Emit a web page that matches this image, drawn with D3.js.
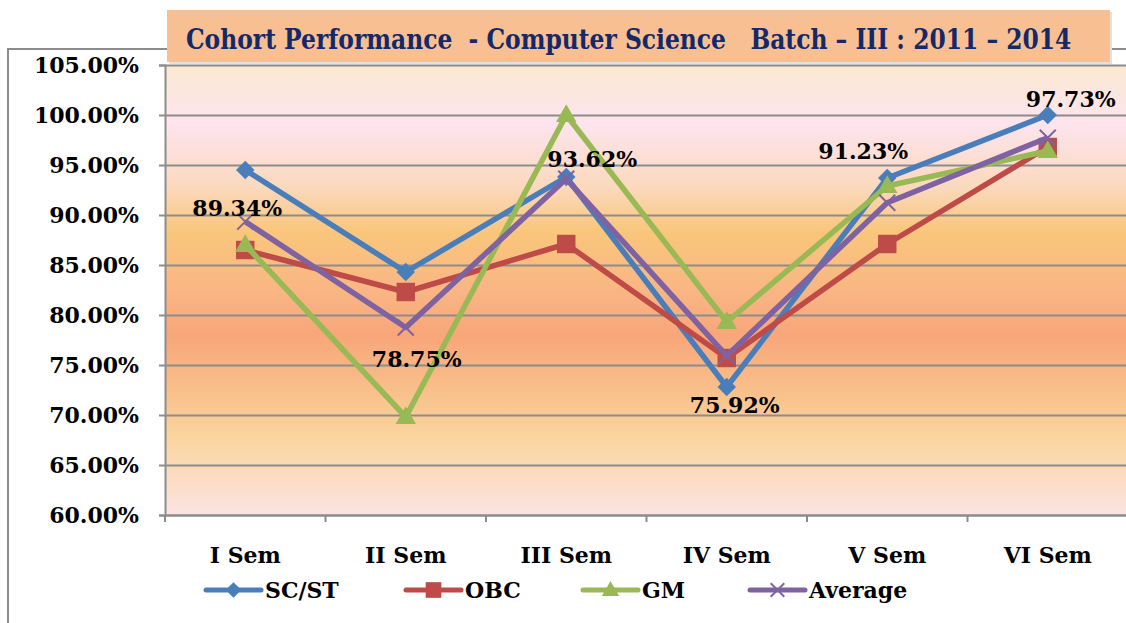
<!DOCTYPE html>
<html>
<head>
<meta charset="utf-8">
<script src="https://cdn.jsdelivr.net/npm/d3@7"></script>
<style>
  body { margin: 0; background: #fff; }
  svg text { font-family: "DejaVu Serif", serif; font-weight: bold; }
</style>
</head>
<body>
<div id="chart"></div>
<script>
// Chart values
var semesters = ["I Sem", "II Sem", "III Sem", "IV Sem", "V Sem", "VI Sem"];
var scst = [94.5, 84.3, 93.8, 72.8, 93.7, 100.0];
var obc = [86.5, 82.3, 87.1, 75.7, 87.1, 96.8];
var gm = [87.0, 69.8, 100.0, 79.3, 92.9, 96.4];
var average = [89.34, 78.75, 93.62, 75.92, 91.23, 97.73];
var yTicks = [60, 65, 70, 75, 80, 85, 90, 95, 100, 105];
var titleText = "Cohort Performance  - Computer Science   Batch \u2013 III : 2011 \u2013 2014";

// where each average label sits relative to its point
var labelDx = [-8, 11, 26, 8, -24, 23];
var labelDy = [-6, 39, -12, 57, -44, -31];

var series = [
    { name: "SC/ST", values: scst, color: "#4A7EBB", marker: "diamond" },
    { name: "OBC", values: obc, color: "#BE4B48", marker: "square" },
    { name: "GM", values: gm, color: "#98B954", marker: "triangle" },
    { name: "Average", values: average, color: "#7E62A1", marker: "x" }
];

var width = 1126, height = 623;
var plot = { left: 165, top: 65, right: 1128, bottom: 515 };

var svg = d3.select("#chart").append("svg")
    .attr("width", width)
    .attr("height", height);

// background gradient of the plot area
var defs = svg.append("defs");
var grad = defs.append("linearGradient")
    .attr("id", "bg")
    .attr("x1", 0).attr("y1", 0).attr("x2", 0).attr("y2", 1);
[[0, "#FBE8D1"], [0.13, "#FDE4EE"], [0.27, "#FBD9BE"], [0.37, "#F9C67B"],
 [0.5, "#F9B684"], [0.6, "#F8A67A"], [0.74, "#F9C38E"], [0.83, "#FAD59E"], [1, "#FCE3E4"]]
    .forEach(function (s) {
        grad.append("stop").attr("offset", s[0]).attr("stop-color", s[1]);
    });

// outer chart border (left and top)
svg.append("path")
    .attr("d", "M8,623 L8,49 L1126,49")
    .attr("fill", "none")
    .attr("stroke", "#8C8C8C")
    .attr("stroke-width", 2);

// scales
var x = d3.scaleBand()
    .domain(semesters)
    .range([plot.left, plot.right])
    .padding(0);

var y = d3.scaleLinear()
    .domain([60, 105])
    .range([plot.bottom, plot.top]);

function cx(i) { return x(semesters[i]) + x.bandwidth() / 2; }

svg.append("rect")
    .attr("x", plot.left)
    .attr("y", plot.top)
    .attr("width", plot.right - plot.left)
    .attr("height", plot.bottom - plot.top)
    .attr("fill", "url(#bg)");

// title box
svg.append("rect")
    .attr("x", 169).attr("y", 12)
    .attr("width", 943).attr("height", 52)
    .attr("fill", "#E6E0DA");
svg.append("rect")
    .attr("x", 167).attr("y", 10)
    .attr("width", 943).attr("height", 52)
    .attr("fill", "#F8C092");
var title = svg.append("text")
    .attr("x", 0)
    .attr("y", 0)
    .style("font-size", "27px")
    .style("white-space", "pre")
    .style("fill", "#13296A")
    .text(titleText);
// squeeze the title horizontally to the reference width
var titleLen = title.node().getComputedTextLength();
title.attr("transform", "translate(186,49) scale(" + (886 / titleLen) + ",1)");

// gridlines
svg.append("g")
    .attr("transform", "translate(" + plot.left + ",0)")
    .call(d3.axisLeft(y).tickValues(yTicks).tickSize(-(plot.right - plot.left)).tickFormat(""))
    .call(function (g) {
        g.select(".domain").remove();
        g.selectAll("line").attr("stroke", "#8C8C8C").attr("stroke-width", 2);
    });

// y axis
svg.append("g")
    .attr("transform", "translate(" + plot.left + ",0)")
    .call(d3.axisLeft(y).tickValues(yTicks).tickSize(6).tickPadding(20)
        .tickFormat(function (d) { return d3.format(".2f")(d) + "%"; }))
    .call(function (g) {
        g.select(".domain").attr("stroke", "#8C8C8C").attr("stroke-width", 2);
        g.selectAll("line").attr("stroke", "#8C8C8C").attr("stroke-width", 2);
        g.selectAll("text")
            .style("font-size", "22px")
            .style("font-family", "DejaVu Serif")
            .style("font-weight", "bold")
            .attr("fill", "#000");
    });

// x axis: labels centered on bands, ticks at band edges
svg.append("g")
    .attr("transform", "translate(0," + plot.bottom + ")")
    .call(d3.axisBottom(x).tickSize(0).tickPadding(32))
    .call(function (g) {
        g.select(".domain").attr("stroke", "#8C8C8C").attr("stroke-width", 2);
        g.selectAll("text")
            .style("font-size", "22px")
            .style("font-family", "DejaVu Serif")
            .style("font-weight", "bold")
            .attr("fill", "#000");
    });

svg.append("g").selectAll("line")
    .data(semesters)
    .enter().append("line")
    .attr("x1", function (d) { return x(d); })
    .attr("x2", function (d) { return x(d); })
    .attr("y1", plot.bottom)
    .attr("y2", plot.bottom + 7)
    .attr("stroke", "#8C8C8C")
    .attr("stroke-width", 2);

// marker drawing
function drawMarker(sel, type, color, scale) {
    if (type === "diamond") {
        sel.append("path")
            .attr("d", d3.symbol().type(d3.symbolSquare).size(170 * scale * scale)())
            .attr("transform", "rotate(45)")
            .attr("fill", color);
    } else if (type === "square") {
        sel.append("path")
            .attr("d", d3.symbol().type(d3.symbolSquare).size(340 * scale * scale)())
            .attr("fill", color);
    } else if (type === "triangle") {
        sel.append("path")
            .attr("d", d3.symbol().type(d3.symbolTriangle).size(180 * scale * scale)())
            .attr("transform", "translate(0,1)")
            .attr("fill", color);
    } else {
        var r = 8 * scale;
        sel.append("path")
            .attr("d", "M" + (-r) + "," + (-r) + "L" + r + "," + r + "M" + (-r) + "," + r + "L" + r + "," + (-r))
            .attr("stroke", color)
            .attr("stroke-width", 2)
            .attr("fill", "none");
    }
}

var line = d3.line()
    .x(function (d, i) { return cx(i); })
    .y(function (d) { return y(d); });

series.forEach(function (s) {
    var g = svg.append("g");
    g.append("path")
        .datum(s.values)
        .attr("d", line)
        .attr("fill", "none")
        .attr("stroke", s.color)
        .attr("stroke-width", 5.5)
        .attr("stroke-linejoin", "round");
    g.selectAll(".m")
        .data(s.values)
        .enter().append("g")
        .attr("class", "m")
        .attr("transform", function (d, i) { return "translate(" + cx(i) + "," + y(d) + ")"; })
        .each(function () { drawMarker(d3.select(this), s.marker, s.color, 1); });
});

// labels for the average series
svg.append("g").selectAll("text")
    .data(average)
    .enter().append("text")
    .attr("x", function (d, i) { return cx(i) + labelDx[i]; })
    .attr("y", function (d, i) { return y(d) + labelDy[i]; })
    .attr("text-anchor", "middle")
    .style("font-size", "22px")
    .style("fill", "#000")
    .text(function (d) { return d3.format(".2f")(d) + "%"; });

// legend
var legendX = [206, 406, 583, 750];
var legend = svg.append("g").selectAll("g")
    .data(series)
    .enter().append("g")
    .attr("transform", function (d, i) { return "translate(" + legendX[i] + ",590)"; });

legend.append("line")
    .attr("x1", 0).attr("x2", 55)
    .attr("stroke", function (d) { return d.color; })
    .attr("stroke-width", 5)
    .attr("stroke-linecap", "round");

legend.append("g")
    .attr("transform", "translate(27.5,0)")
    .each(function (d) { drawMarker(d3.select(this), d.marker, d.color, 0.85); });

legend.append("text")
    .attr("x", 59)
    .attr("y", 8)
    .style("font-size", "22px")
    .style("fill", "#000")
    .text(function (d) { return d.name; });
</script>
</body>
</html>
